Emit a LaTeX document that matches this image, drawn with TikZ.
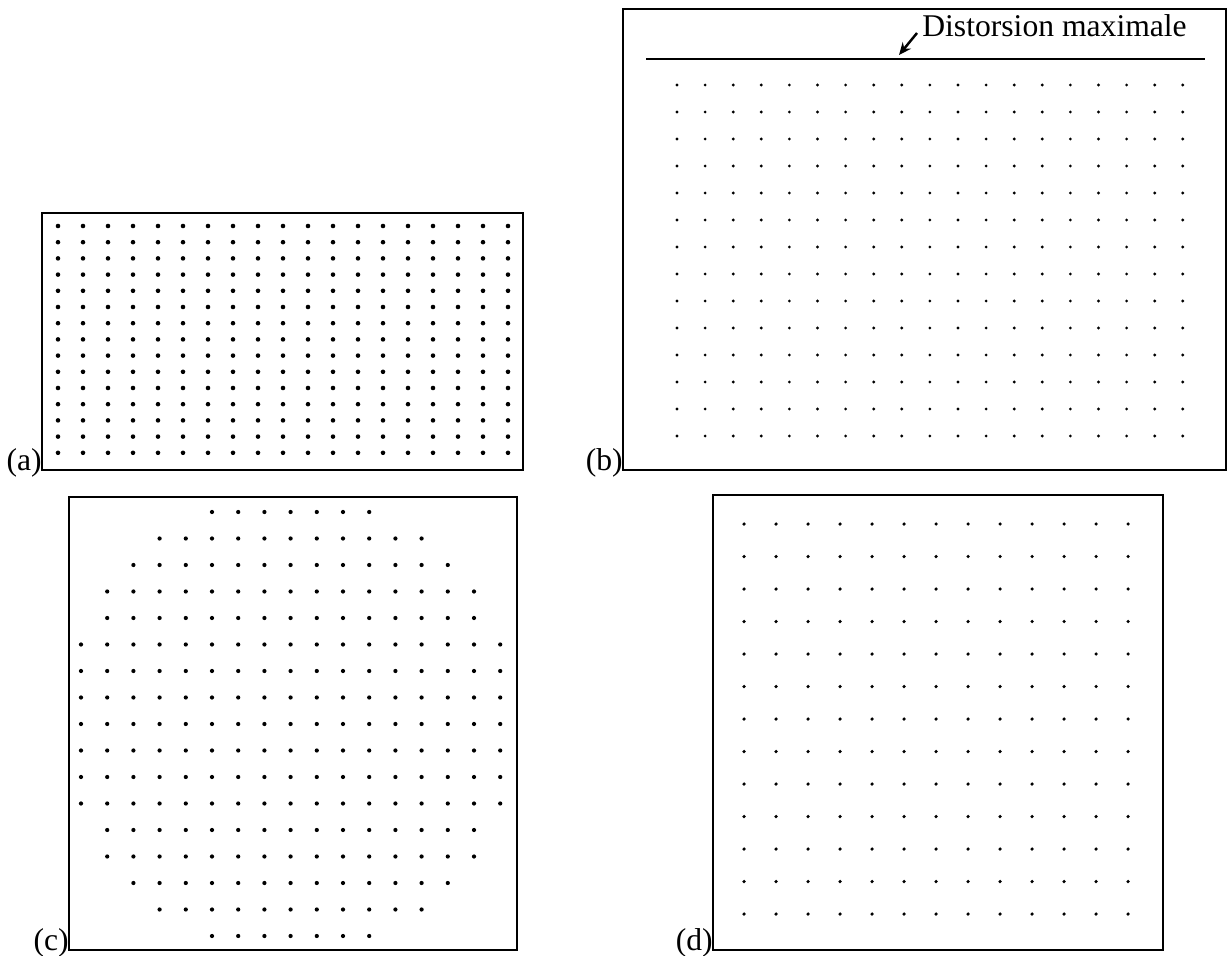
\documentclass[tikz,border=0pt]{standalone}
\usepackage{fontspec}
\setmainfont{Liberation Serif}
\usetikzlibrary{arrows.meta, positioning}

\begin{document}
\begin{tikzpicture}[x=0.02cm, y=-0.02cm, >={Stealth[length=7pt, width=6pt]},
  frame/.style={line width=1.1pt},
  panel/.style={font=\fontsize{18}{20}\selectfont, inner sep=0pt, anchor=base east}]
  \useasboundingbox (0,0) rectangle (1228,956);

  % Panel (a): dense grid
  \draw[frame] (42,213) rectangle (523,470);
  \node[panel] (lbla) at (42,470) {(a)};
  \foreach \i in {0,...,18}
    \foreach \j in {0,...,14}
      \fill (58+25*\i, 226+16.2*\j) circle (1.3pt);

  % Panel (b): grid with maximal distortion line
  \draw[frame] (623,9) rectangle (1226,470);
  \node[panel] (lblb) at (623,470) {(b)};
  \draw[line width=0.8pt] (646,59) -- (1205,59);
  \node[font=\fontsize{18}{20}\selectfont, inner sep=0pt, anchor=base west] (dist) at (922,37) {Distorsion maximale};
  \coordinate (disttail) at (917,33);
  \coordinate (distpt) at (899,55);
  \draw[->, line width=1.4pt] (disttail) -- (distpt);
  \foreach \i in {0,...,18}
    \foreach \j in {0,...,13}
      \fill (677+28.1*\i, 85+27*\j) circle (0.9pt);

  % Panel (c): circular grid
  \draw[frame] (69,497) rectangle (517,950);
  \node[panel] (lblc) at (69,950) {(c)};
  \foreach \i in {0,...,16}
    \foreach \j in {0,...,16} {
      \pgfmathtruncatemacro\rr{(\i-8)^2+(\j-8)^2}
      \ifnum\rr<76
        \fill (81+26.2*\i, 512+26.5*\j) circle (1.2pt);
      \fi
    }

  % Panel (d): coarse grid
  \draw[frame] (713,495) rectangle (1163,950);
  \node[panel] (lbld) at (713,950) {(d)};
  \foreach \i in {0,...,12}
    \foreach \j in {0,...,12}
      \fill (744+32*\i, 524+32.5*\j) circle (1pt);
\end{tikzpicture}
\end{document}
